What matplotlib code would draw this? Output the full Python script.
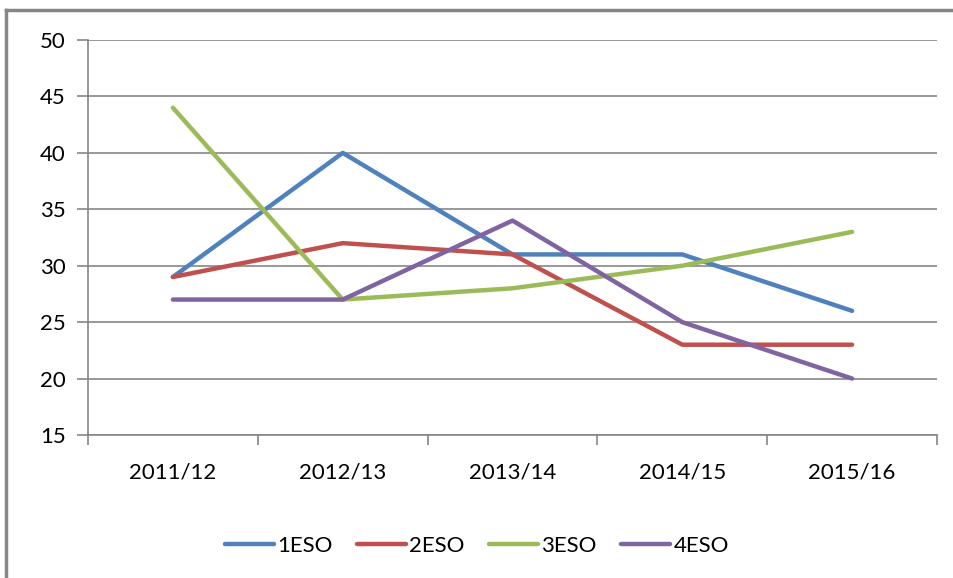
import matplotlib.pyplot as plt
from matplotlib.lines import Line2D

# Data
years = ["2011/12", "2012/13", "2013/14", "2014/15", "2015/16"]
eso1 = [29, 40, 31, 31, 26]
eso2 = [29, 32, 31, 23, 23]
eso3 = [44, 27, 28, 30, 33]
eso4 = [27, 27, 34, 25, 20]

series = [("1ESO", eso1, "#4F81BD"), ("2ESO", eso2, "#C0504D"),
          ("3ESO", eso3, "#9BBB59"), ("4ESO", eso4, "#8064A2")]

plt.rcParams['font.family'] = ['Lato', 'DejaVu Sans']

fig = plt.figure(figsize=(9.54, 5.78), dpi=100)
ax = fig.add_axes([88 / 954, 1 - 435 / 578, (937 - 88) / 954, (435 - 40) / 578])

x = list(range(len(years)))
for name, vals, col in series:
    ax.plot(x, vals, color=col, linewidth=3.2, label=name, solid_capstyle='round')

ax.set_xlim(-0.5, len(years) - 0.5)
ax.set_ylim(15, 50)
ax.set_yticks(range(15, 51, 5))
ax.yaxis.grid(True, color='#868686', linewidth=1.2)
ax.set_axisbelow(True)

# category boundaries as major ticks, labels as minor
ax.set_xticks([i - 0.5 for i in range(len(years) + 1)])
ax.set_xticklabels([])
ax.set_xticks(x, minor=True)
ax.set_xticklabels(years, minor=True)
ax.tick_params(axis='x', which='minor', length=0, pad=20, labelsize=16)
ax.tick_params(axis='x', which='major', length=7, width=1.2, color='#868686', direction='out')
ax.tick_params(axis='y', length=8, width=1.2, color='#868686', labelsize=16, pad=8)

for s in ['top', 'right']:
    ax.spines[s].set_visible(False)
for s in ['left', 'bottom']:
    ax.spines[s].set_color('#868686')
    ax.spines[s].set_linewidth(1.2)

leg = fig.legend(loc='center', bbox_to_anchor=(0.5, 1 - 546 / 578), ncol=4,
                 frameon=False, fontsize=16, handlelength=2.2, handletextpad=0.15,
                 columnspacing=1.1)

# outer chart border (top and left edges only visible)
top_y = 1 - 10 / 578
left_x = 6 / 954
fig.add_artist(Line2D([left_x, 1.05], [top_y, top_y], color='#868686', linewidth=2.5))
fig.add_artist(Line2D([left_x, left_x], [-0.05, top_y], color='#868686', linewidth=2.5))

fig.savefig("out.png", dpi=100)
